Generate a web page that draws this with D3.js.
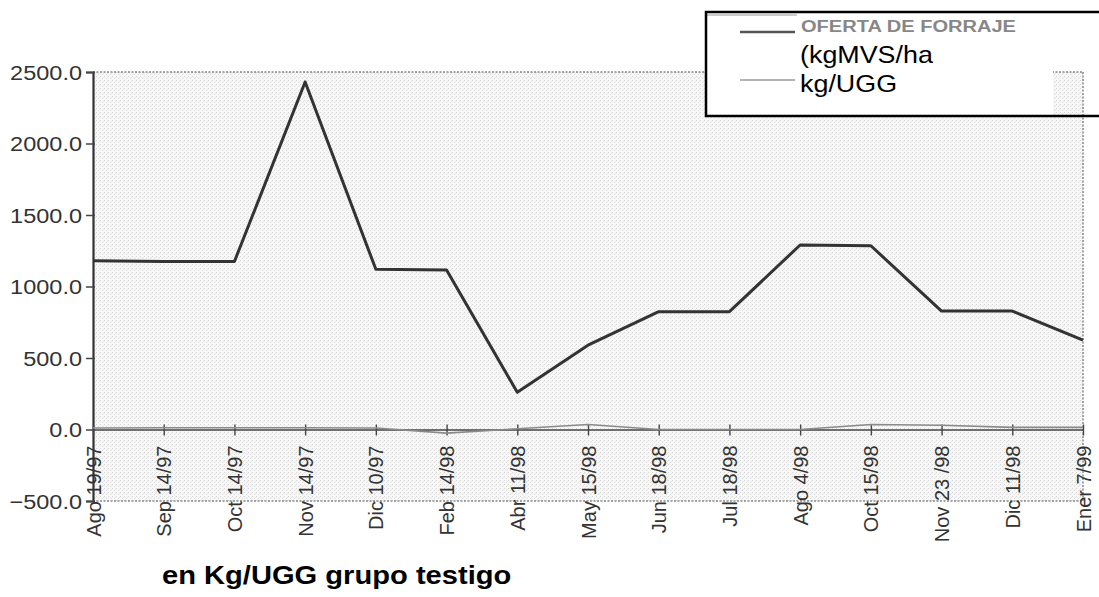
<!DOCTYPE html>
<html><head><meta charset="utf-8">
<script src="https://cdn.jsdelivr.net/npm/d3@7"></script>
<style>html,body{margin:0;padding:0;background:#fff;}svg{display:block;font-family:"Liberation Sans",Arial,sans-serif;}</style>
</head><body>
<script>
const categories = ["Ago 19/97","Sep 14/97","Oct 14/97","Nov 14/97","Dic 10/97","Feb 14/98","Abr 11/98","May 15/98","Jun 18/98","Jul 18/98","Ago 4/98","Oct 15/98","Nov 23 /98","Dic 11/98","Ener 7/99"];
const ofertaForraje = [1180,1175,1175,2430,1120,1115,260,590,824,824,1290,1285,828,828,625];
const kgUGG = [10,12,12,12,10,-25,5,35,0,0,0,35,30,15,15];
const yTicks = [-500,0,500,1000,1500,2000,2500];
const legendLabels = ["OFERTA DE FORRAJE","(kgMVS/ha","kg/UGG"];
const title = "en Kg/UGG grupo testigo";

const W=1099,H=597, SX=1.12;
const svg=d3.select("body").append("svg").attr("width",W).attr("height",H);
const defs=svg.append("defs");
const pat=defs.append("pattern").attr("id","stip").attr("width",4).attr("height",4).attr("patternUnits","userSpaceOnUse");
pat.append("rect").attr("width",4).attr("height",4).attr("fill","#f7f7f7");
[[0,0,"#d6d6d6"],[2,2,"#dedede"],[3,1,"#e6e6e6"]].forEach(([px,py,c])=>
  pat.append("rect").attr("x",px).attr("y",py).attr("width",1).attr("height",1).attr("fill",c));

const x=d3.scalePoint().domain(categories).range([93,1083]);
const y=d3.scaleLinear().domain([-500,2500]).range([501,72]);

// plot background
svg.append("rect").attr("x",x.range()[0]).attr("y",y(2500)).attr("width",x.range()[1]-x.range()[0]).attr("height",y(-500)-y(2500)).attr("fill","url(#stip)");
// dotted borders
const bd=svg.append("g").attr("stroke","#888").attr("stroke-width",1.5).attr("stroke-dasharray","2,1.5").attr("fill","none");
bd.append("line").attr("x1",x.range()[0]).attr("x2",x.range()[1]).attr("y1",y(2500)).attr("y2",y(2500));
bd.append("line").attr("x1",x.range()[1]).attr("x2",x.range()[1]).attr("y1",y(2500)).attr("y2",y(-500));
bd.append("line").attr("x1",x.range()[0]).attr("x2",x.range()[1]).attr("y1",y(-500)).attr("y2",y(-500));

// y axis
const yAxis=svg.append("g").attr("transform",`translate(${x.range()[0]},0)`)
  .call(d3.axisLeft(y).tickValues(yTicks).tickSize(7).tickFormat(d=>d3.format(".1f")(d)));
yAxis.attr("font-family",null);
yAxis.select(".domain").attr("stroke","#333").attr("stroke-width",2.2);
yAxis.selectAll(".tick line").attr("stroke","#444").attr("stroke-width",1.5).attr("x2",-7).attr("x1",2);
yAxis.selectAll(".tick text").attr("font-size",21).attr("fill","#333").attr("x",0).attr("text-anchor","end").attr("dy","0.35em")
   .attr("transform",`translate(-11,0) scale(${SX},1)`);

// x axis at zero
const xAxis=svg.append("g").attr("transform",`translate(0,${y(0)})`)
  .call(d3.axisBottom(x).tickSize(5).tickSizeOuter(0));
xAxis.attr("font-family",null);
xAxis.select(".domain").attr("stroke","#444").attr("stroke-width",1.6);
xAxis.selectAll(".tick line").attr("stroke","#444").attr("stroke-width",1.4).attr("y1",-5).attr("y2",6);
xAxis.selectAll(".tick text").attr("font-size",20).attr("fill","#333")
  .attr("text-anchor","end").attr("x",0).attr("y",0).attr("dy","0.35em")
  .attr("transform","translate(0,16) rotate(-90)");

// series
const line=d3.line().x((d,i)=>x(categories[i])).y(d=>y(d));
svg.append("path").datum(kgUGG).attr("d",line).attr("fill","none").attr("stroke","#8a8a8a").attr("stroke-width",1.6);
svg.append("path").datum(ofertaForraje).attr("d",line).attr("fill","none").attr("stroke","#333").attr("stroke-width",3).attr("stroke-linejoin","round");

// legend
const lg=svg.append("g");
lg.append("rect").attr("x",707).attr("y",13).attr("width",346).attr("height",102).attr("fill","#fff");
lg.append("line").attr("x1",707).attr("x2",797).attr("y1",15).attr("y2",15).attr("stroke","#bbb").attr("stroke-width",1.5);
lg.append("line").attr("x1",740).attr("x2",795).attr("y1",32).attr("y2",32).attr("stroke","#555").attr("stroke-width",2.5);
lg.append("line").attr("x1",740).attr("x2",795).attr("y1",80).attr("y2",80).attr("stroke","#9a9a9a").attr("stroke-width",1.5);
lg.append("text").attr("transform",`translate(801,32) scale(1.18,1)`).attr("font-size",17).attr("font-weight","bold").attr("fill","#878787").text(legendLabels[0]);
lg.append("text").attr("transform",`translate(800,63) scale(${SX},1)`).attr("font-size",24).attr("fill","#000").text(legendLabels[1]);
lg.append("text").attr("transform",`translate(800,92) scale(${SX},1)`).attr("font-size",24).attr("fill","#000").text(legendLabels[2]);
lg.append("rect").attr("x",706).attr("y",12).attr("width",420).attr("height",104).attr("fill","none").attr("stroke","#000").attr("stroke-width",2.5);

// title
svg.append("text").attr("transform",`translate(162,584) scale(${SX},1)`).attr("font-size",26).attr("font-weight","bold").attr("fill","#000").text(title);
</script>
</body></html>
